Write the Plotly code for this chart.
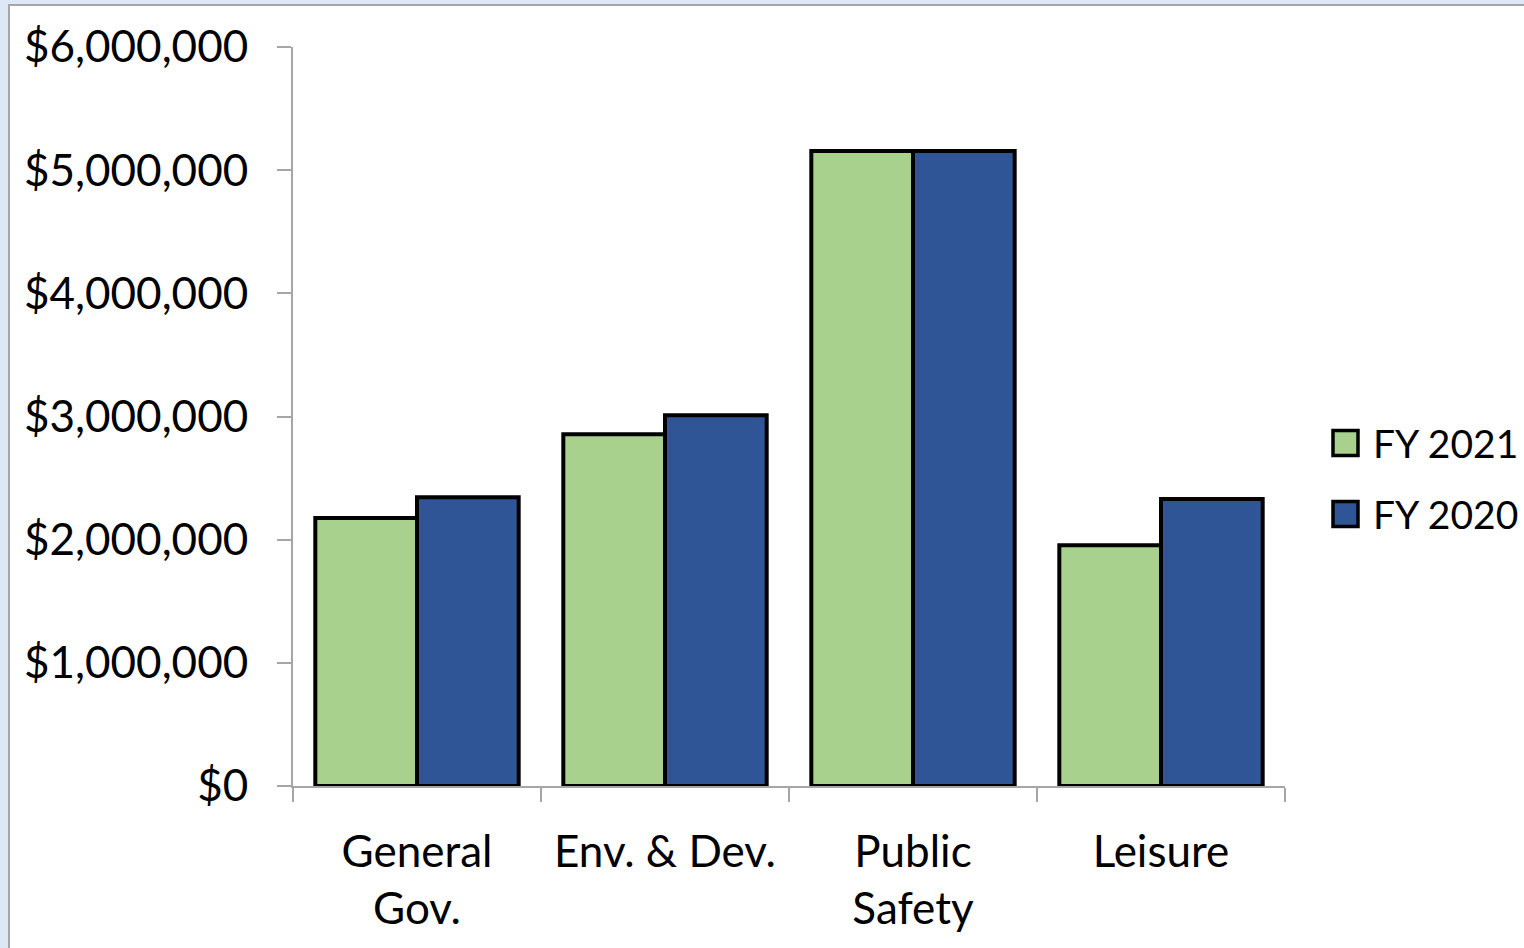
import plotly.graph_objects as go

categories = ["General<br>Gov.", "Env. & Dev.", "Public<br>Safety", "Leisure"]
series_names = ["FY 2021", "FY 2020"]
fy2021 = [2175000, 2855000, 5155000, 1955000]
fy2020 = [2345000, 3010000, 5155000, 2330000]
tick_vals = [0, 1000000, 2000000, 3000000, 4000000, 5000000, 6000000]
tick_text = ["$0", "$1,000,000", "$2,000,000", "$3,000,000", "$4,000,000", "$5,000,000", "$6,000,000"]
colors = ["#A9D18E", "#2F5597"]

FONT = "Lato, 'Open Sans', sans-serif"

fig = go.Figure()
for name, vals, col in zip(series_names, [fy2021, fy2020], colors):
    fig.add_trace(go.Bar(name=name, x=categories, y=vals, showlegend=False,
                         marker=dict(color=col, line=dict(color="black", width=4))))

L, R, T, B = 293, 1524 - 1285, 47, 948 - 786
W, H = 1524, 948
pw, ph = W - L - R, H - T - B

def px(xp):
    return (xp - L) / pw

def py(yp):
    return (H - B - yp) / ph

shapes = [
    dict(type="rect", xref="paper", yref="paper", layer="below",
         x0=px(9), x1=px(1540), y0=py(5), y1=py(970),
         fillcolor="white", line=dict(color="#A6A6A6", width=2)),
]
annotations = []
legend_y = [443, 514]
for name, col, yc in zip(series_names, colors, legend_y):
    shapes.append(dict(type="rect", xref="paper", yref="paper",
                       x0=px(1333), x1=px(1358), y0=py(yc - 12.5), y1=py(yc + 12.5),
                       fillcolor=col, line=dict(color="black", width=3.5)))
    annotations.append(dict(xref="paper", yref="paper", x=px(1371), y=py(yc),
                            xanchor="left", yanchor="middle", showarrow=False,
                            text=name, font=dict(size=39, family=FONT, color="black")))

fig.update_layout(
    width=W, height=H,
    margin=dict(l=L, r=R, t=T, b=B),
    paper_bgcolor="#DCE8F5",
    plot_bgcolor="rgba(0,0,0,0)",
    barmode="group",
    bargap=0.18,
    bargroupgap=0,
    font=dict(family=FONT, size=44, color="black"),
    showlegend=False,
    shapes=shapes,
    annotations=annotations,
    xaxis=dict(showline=True, linecolor="#A6A6A6", linewidth=2,
               ticks="outside", ticklen=14, tickcolor="#A6A6A6", tickwidth=2,
               tickson="boundaries", tickfont=dict(size=44, family=FONT),
               ticklabelstandoff=26,
               showgrid=False, zeroline=False, fixedrange=True),
    yaxis=dict(range=[0, 6000000], tickvals=tick_vals, ticktext=tick_text,
               showline=True, linecolor="#A6A6A6", linewidth=2,
               ticks="outside", ticklen=14, tickcolor="#A6A6A6", tickwidth=2,
               ticklabelstandoff=20,
               tickfont=dict(size=44, family=FONT), showgrid=False,
               zeroline=False, fixedrange=True),
)

fig.write_html("out.html", config={"displayModeBar": False},
               post_script="document.body.style.margin='0px';document.body.style.background='#DCE8F5';")
